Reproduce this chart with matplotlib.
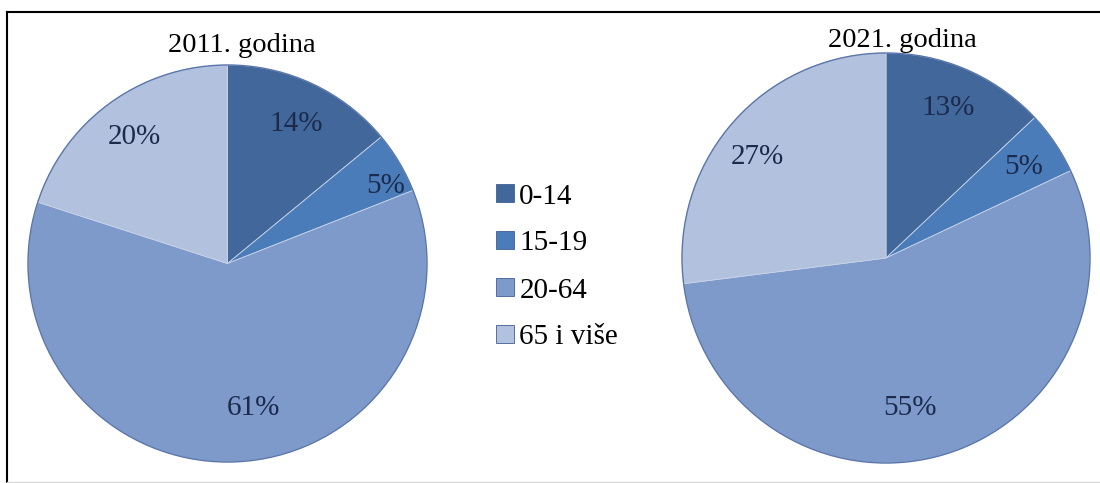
import matplotlib
matplotlib.use("Agg")
import matplotlib.pyplot as plt
from matplotlib.patches import Patch
from matplotlib.lines import Line2D

categories = ["0-14", "15-19", "20-64", "65 i više"]
values_2011 = [14, 5, 61, 20]
values_2021 = [13, 5, 55, 27]
titles = ["2011. godina", "2021. godina"]
colors = ["#41679b", "#4a7cb9", "#7d9acb", "#b1c1de"]

plt.rcParams['font.family'] = ['Liberation Serif', 'DejaVu Serif']

W, H = 1100, 483
fig = plt.figure(figsize=(W / 100, H / 100), dpi=100)
fig.patch.set_facecolor("white")

def add_pie(cx, cy, rx, ry, values, title, label_pos, title_x, title_base):
    ax = fig.add_axes([(cx - rx) / W, (H - cy - ry) / H, 2 * rx / W, 2 * ry / H])
    ax.pie(values, colors=colors, startangle=90, counterclock=False,
           radius=1.0,
           wedgeprops=dict(edgecolor="#c9d3e6", linewidth=0.6))
    ax.pie([1], colors=["none"], radius=1.0,
           wedgeprops=dict(edgecolor="#5b76aa", linewidth=1.0, fill=False))
    ax.set_aspect("auto")
    ax.set_xlim(-1, 1)
    ax.set_ylim(-1, 1)
    for v, (px, py) in zip(values, label_pos):
        ax.text((px - cx) / rx, (cy - py) / ry, f"{v}%", ha="center", va="center",
                fontsize=21, color="#1c2b4c")
    fig.text(title_x / W, 1 - title_base / H, title, ha="center", va="baseline",
             fontsize=20.5, color="black")
    return ax

add_pie(227.5, 263.5, 199.5, 198.5, values_2011, titles[0],
        [(296, 124), (386, 186), (253, 408), (134, 137)], 242, 52)
add_pie(886, 258, 204, 205, values_2021, titles[1],
        [(948, 108), (1024, 167), (910, 408), (757, 157)], 902, 47)

handles = [Patch(facecolor=c, edgecolor="#3f5f93", linewidth=0.6) for c in colors]
fig.legend(handles, categories, loc="center left", bbox_to_anchor=(496 / W, 1 - 267 / H),
           frameon=False, fontsize=21, handlelength=0.6, handleheight=0.6,
           handletextpad=0.2, labelspacing=0.72, borderaxespad=0, borderpad=0)

fig.add_artist(Line2D([7 / W, 1.0], [1 - 12 / H, 1 - 12 / H], color="black", linewidth=1.5,
                      transform=fig.transFigure))
fig.add_artist(Line2D([7 / W, 7 / W], [0, 1 - 12 / H], color="black", linewidth=1.5,
                      transform=fig.transFigure))
fig.add_artist(Line2D([7 / W, 1.0], [1.5 / H, 1.5 / H], color="#d8d8d8", linewidth=1.0,
                      transform=fig.transFigure))

fig.savefig("out.png", dpi=100, facecolor="white")
